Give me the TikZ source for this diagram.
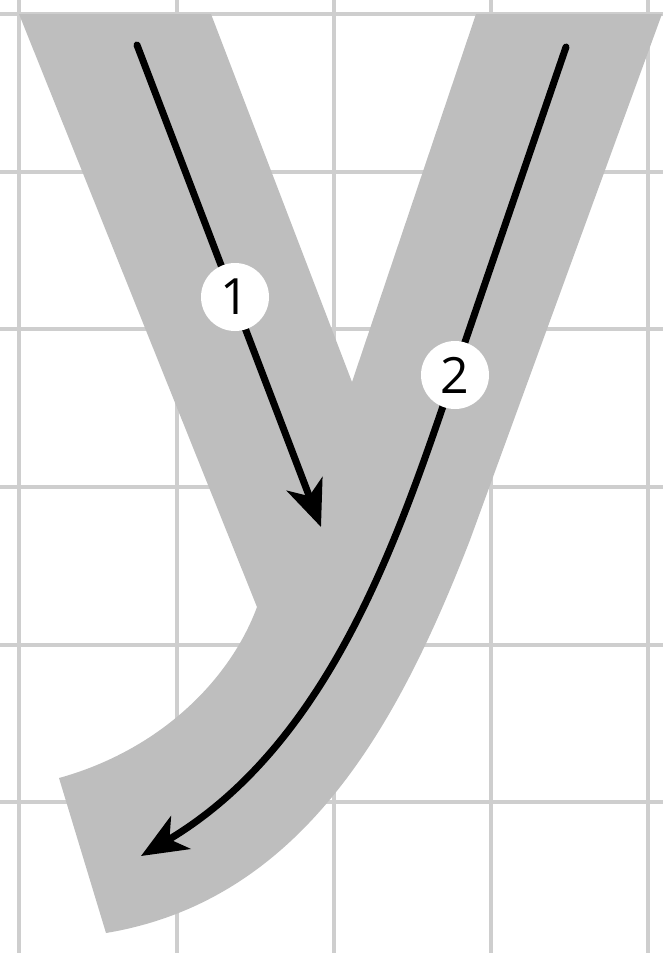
\documentclass[tikz,border=0pt]{standalone}
\usepackage{fontspec}
\setmainfont{Open Sans}
\usetikzlibrary{arrows.meta}
\definecolor{shapegray}{RGB}{190,190,190}
\definecolor{gridgray}{RGB}{206,206,206}
\tikzset{
  gridline/.style={draw=gridgray, line width=3.5pt},
  letter/.style={fill=shapegray, draw=none},
  strokearrow/.style={draw=black, line width=7pt, line cap=round,
    -{Stealth[length=46pt, width=38pt, inset=13pt, line cap=butt, line join=miter]}},
  numcircle/.style={circle, fill=white, draw=none, minimum size=68pt, inner sep=0pt,
    font=\fontsize{50}{50}\selectfont}
}
\begin{document}
\begin{tikzpicture}[x=1pt,y=-1pt]
\useasboundingbox (0,0) rectangle (663,953);
% grid
\foreach \gx in {19,177,334,491,648} {
  \draw[gridline] (\gx,0) -- (\gx,953);
}
\foreach \gy in {14,172,329,487,645,802} {
  \draw[gridline] (0,\gy) -- (663,\gy);
}
% letter y
\path[letter] (19,14) -- (211,14) -- (352,382) -- (476,14) -- (662,14)
  -- (470,540) .. controls (400,720) and (305,900) .. (106,933)
  -- (59,778) .. controls (160,750) and (230,680) .. (257,607) -- cycle;
% stroke 1
\coordinate (s1) at (137,45);
\coordinate (e1) at (321,527);
\draw[strokearrow] (s1) -- (e1);
% stroke 2
\coordinate (s2) at (566,47);
\coordinate (m2) at (440,415);
\coordinate (e2) at (141,856);
\draw[strokearrow] (s2) -- (m2) .. controls (390,560) and (320,750) .. (e2);
% numbers
\node[numcircle] (n1) at (235,297) {1};
\node[numcircle] (n2) at (455,375) {2};
\end{tikzpicture}
\end{document}
